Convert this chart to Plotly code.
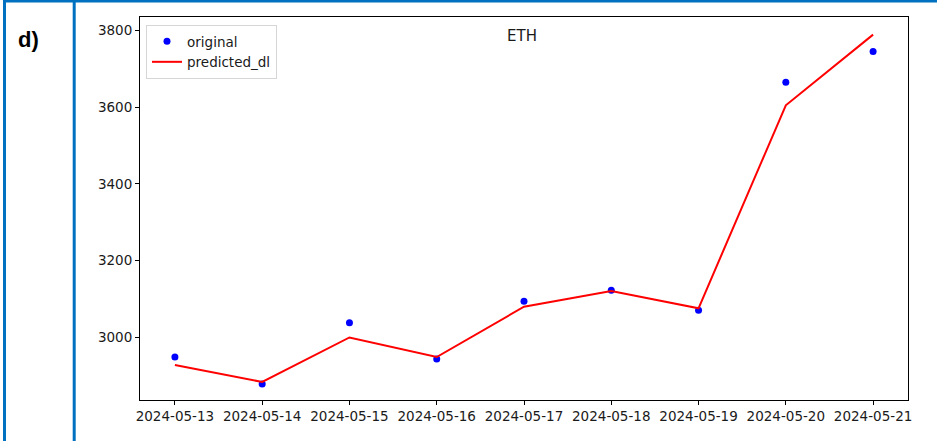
import plotly.graph_objects as go

# ETH daily close: observed vs. deep-learning prediction
dates = ["2024-05-13", "2024-05-14", "2024-05-15", "2024-05-16", "2024-05-17",
         "2024-05-18", "2024-05-19", "2024-05-20", "2024-05-21"]
original = [2949, 2879, 3038, 2944, 3094, 3123, 3071, 3665, 3745]
predicted_dl = [2928, 2884, 3000, 2949, 3080, 3121, 3076, 3605, 3789]
y_ticks = [3000, 3200, 3400, 3600, 3800]

W, H = 937, 441
ML, MR, MT, MB = 140, 29, 17, 41
PW, PH = W - ML - MR, H - MT - MB


def px_x(px):
    return (px - ML) / PW


def px_y(py):
    return (H - MB - py) / PH


FONT = "DejaVu Sans"
FRAME = "#0070C0"
TEXT = "#1a1a1a"

fig = go.Figure()
fig.add_trace(go.Scatter(
    x=dates, y=original, mode="markers", name="original",
    marker=dict(color="blue", size=7),
))
fig.add_trace(go.Scatter(
    x=dates, y=predicted_dl, mode="lines", name="predicted_dl",
    line=dict(color="red", width=2),
))

axis_common = dict(
    showline=True, linecolor="black", linewidth=1, mirror=True,
    ticks="outside", ticklen=4, tickwidth=1, tickcolor="black",
    showgrid=False, zeroline=False,
    tickfont=dict(family=FONT, size=13.5, color=TEXT),
)

fig.update_xaxes(
    type="date",
    range=["2024-05-12 14:24", "2024-05-21 09:36"],
    tickmode="array", tickvals=dates, ticktext=dates,
    **axis_common,
)
fig.update_yaxes(
    range=[2837, 3835],
    tickmode="array", tickvals=y_ticks, ticktext=[str(v) for v in y_ticks],
    **axis_common,
)

# table-cell frame around the panel
shapes = [
    dict(type="line", xref="paper", yref="paper",
         x0=px_x(3), x1=px_x(W + 5), y0=px_y(1), y1=px_y(1),
         line=dict(color=FRAME, width=3)),
    dict(type="line", xref="paper", yref="paper",
         x0=px_x(4.5), x1=px_x(4.5), y0=px_y(0), y1=px_y(H + 5),
         line=dict(color=FRAME, width=3)),
    dict(type="line", xref="paper", yref="paper",
         x0=px_x(74.2), x1=px_x(74.2), y0=px_y(0), y1=px_y(H + 5),
         line=dict(color=FRAME, width=3)),
]

annotations = [
    dict(text="ETH", xref="paper", yref="paper", x=px_x(522), y=px_y(36.5),
         xanchor="center", yanchor="middle", showarrow=False,
         font=dict(family=FONT, size=15, color=TEXT)),
    dict(text="<b>d)</b>", xref="paper", yref="paper", x=px_x(28), y=px_y(40),
         xanchor="center", yanchor="middle", showarrow=False,
         font=dict(family="Liberation Sans", size=22, color="black")),
]

fig.update_layout(
    width=W, height=H,
    margin=dict(l=ML, r=MR, t=MT, b=MB, pad=0),
    paper_bgcolor="white", plot_bgcolor="white",
    showlegend=True,
    legend=dict(
        x=px_x(146), y=px_y(25), xanchor="left", yanchor="top",
        bgcolor="rgba(255,255,255,0.8)", bordercolor="#d6d6d6", borderwidth=1,
        font=dict(family=FONT, size=13.5, color=TEXT),
        tracegroupgap=0,
    ),
    shapes=shapes,
    annotations=annotations,
)

fig.write_html("out.html")
